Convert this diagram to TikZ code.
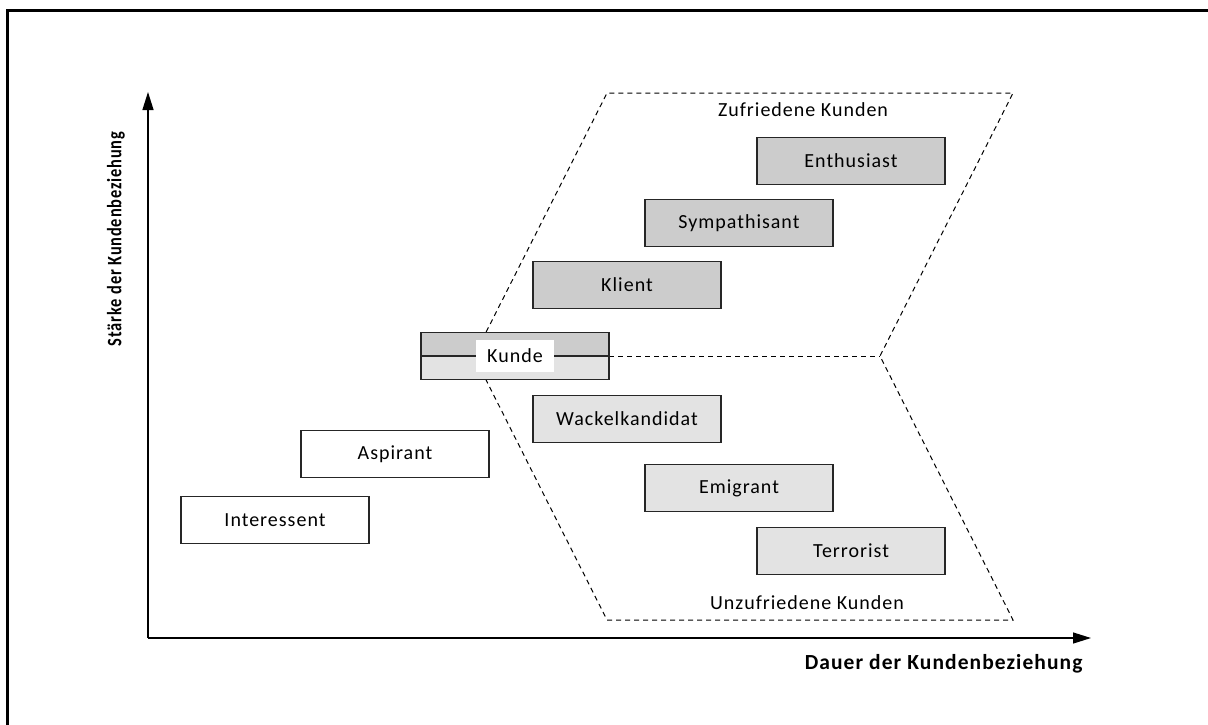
\documentclass[tikz,border=0pt]{standalone}
\usepackage{fontspec}
\setmainfont{Carlito}[LetterSpace=5]
\usepackage{graphicx}
\usepackage{tikz}
\usetikzlibrary{arrows.meta, positioning}
\tikzstyle{stage} = [draw=black!85, line width=1.2pt, minimum width=188pt, minimum height=47pt, inner sep=0pt, font=\fontsize{20}{24}\selectfont]
\tikzstyle{prospect} = [stage, fill=white]
\tikzstyle{happy} = [stage, fill=black!20]
\tikzstyle{unhappy} = [stage, fill=black!11]
\tikzstyle{axis} = [line width=1.3pt, -{Triangle[length=18pt,width=11pt]}]
\tikzstyle{zone} = [dash pattern=on 5pt off 4pt, line width=1pt, draw=black]
\tikzstyle{caption} = [font=\fontsize{20}{24}\selectfont]

\begin{document}
\begin{tikzpicture}[x=1pt, y=-1pt, >=Stealth]
        \useasboundingbox (0,0) rectangle (1208,724);
        \clip (0,0) rectangle (1208,724);
        % Frame (only top and left edge are visible)
        \draw[line width=3pt] (7,740) -- (7,10) -- (1230,10);

        % Axes
        \coordinate (origin) at (148,638);
        \coordinate (ytip) at (148,92);
        \coordinate (xtip) at (1091,638);
        \draw[axis] (origin) -- (ytip);
        \draw[axis] (origin) -- (xtip);
        \node[caption, font=\bfseries\fontsize{21.5}{25}\selectfont, anchor=east] (xlabel) at (1086,664) {Dauer der Kundenbeziehung};
        \node[caption, font=\bfseries\fontsize{20.5}{24}\selectfont, rotate=90] (ylabel) at (116,239) {\scalebox{0.8}[1]{Stärke der Kundenbeziehung}};

        % Zones: satisfied above, unsatisfied below
        \coordinate (zl) at (474,356);
        \coordinate (ztl) at (607,93);
        \coordinate (ztr) at (1013,93);
        \coordinate (zr) at (880,356);
        \coordinate (zbr) at (1013,620);
        \coordinate (zbl) at (607,620);
        \draw[zone] (zl) -- (ztl) -- (ztr) -- (zr) -- (zbr) -- (zbl) -- cycle;
        \draw[zone] (zl) -- (zr);
        \node[caption] (zufrieden) at (803,110) {Zufriedene Kunden};
        \node[caption] (unzufrieden) at (807,603) {Unzufriedene Kunden};

        % Stages
        \node[prospect] (interessent) at (275,520) {Interessent};
        \node[prospect] (aspirant) at (395,454) {Aspirant};
        \node[stage, path picture={
            \fill[black!20] (path picture bounding box.north west) rectangle (path picture bounding box.east);
            \fill[black!11] (path picture bounding box.west) rectangle (path picture bounding box.south east);
        }] (kunde) at (515,356) {};
        \draw[line width=1.2pt, draw=black!85] (kunde.west) -- (kunde.east);
        \node[caption, fill=white, inner xsep=11.5pt, minimum height=32pt] (kundetext) at (kunde) {Kunde};

        \node[happy] (klient) at (627,285) {Klient};
        \node[happy] (sympathisant) at (739,223) {Sympathisant};
        \node[happy] (enthusiast) at (851,161) {Enthusiast};

        \node[unhappy] (wackelkandidat) at (627,419) {Wackelkandidat};
        \node[unhappy] (emigrant) at (739,488) {Emigrant};
        \node[unhappy] (terrorist) at (851,551) {Terrorist};
    \end{tikzpicture}
\end{document}
